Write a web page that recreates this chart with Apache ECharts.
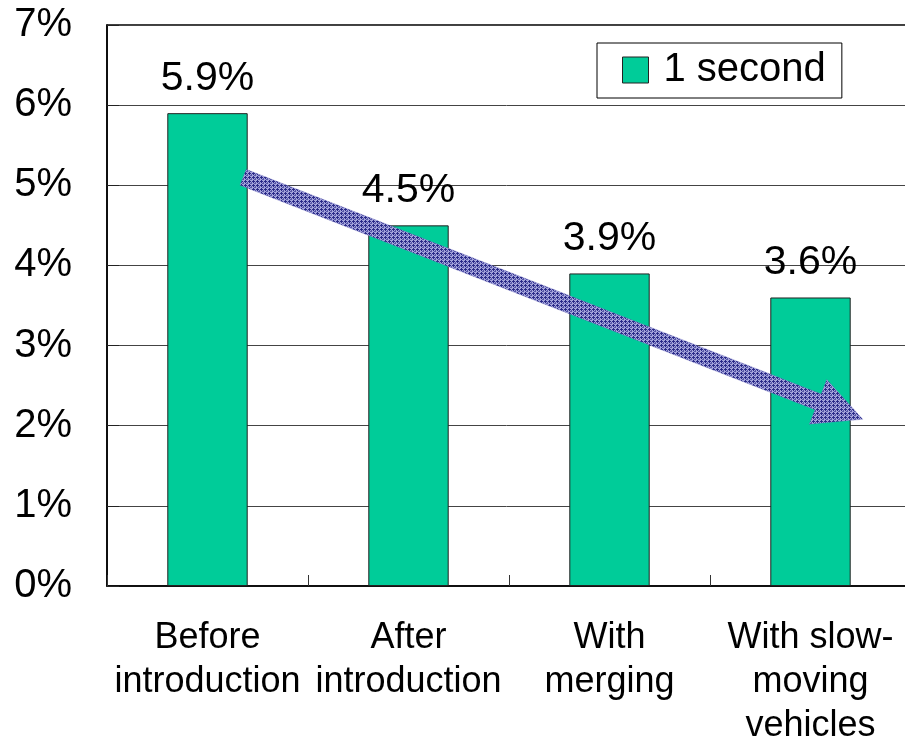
<!DOCTYPE html>
<html>
<head>
<meta charset="utf-8">
<script src="https://cdn.jsdelivr.net/npm/echarts@6/dist/echarts.min.js"></script>
<style>
html,body{margin:0;padding:0;background:#fff;}
#c{width:905px;height:741px;}
</style>
</head>
<body>
<div id="c"></div>
<script>
const categories = ['Before\nintroduction', 'After\nintroduction', 'With\nmerging', 'With slow-\nmoving\nvehicles'];
const seriesName = '1 second';
const values = [5.9, 4.5, 3.9, 3.6];
const yTicks = [0, 1, 2, 3, 4, 5, 6, 7];
// arrow annotation endpoints in data units: [category position, percent]
const arrowFrom = [0.177, 5.10];
const arrowTo = [3.26, 2.08];

const FONT = 'Liberation Sans, Arial, sans-serif';

// checkered pattern for the arrow
const pat = document.createElement('canvas');
pat.width = 4; pat.height = 4;
const pc = pat.getContext('2d');
pc.fillStyle = '#a2a2da'; pc.fillRect(0, 0, 4, 4);
pc.fillStyle = '#2a2a88';
[[1,0],[0,1],[1,1],[2,1],[1,2]].forEach(p => pc.fillRect(p[0], p[1], 1, 1));
pc.fillStyle = '#5656a8';
[[3,3],[3,2],[2,3]].forEach(p => pc.fillRect(p[0], p[1], 1, 1));

const chart = echarts.init(document.getElementById('c'), null, {renderer: 'canvas'});

chart.setOption({
  animation: false,
  backgroundColor: '#fff',
  grid: {
    left: 107, top: 25, width: 804, height: 561,
    containLabel: false,
    outerBoundsMode: 'none',
    show: true, borderColor: '#000', borderWidth: 1.5, backgroundColor: 'transparent'
  },
  legend: {
    left: 597, top: 43,
    padding: [7, 16, 8, 25],
    borderColor: '#000', borderWidth: 1,
    itemWidth: 26, itemHeight: 26,
    icon: 'rect',
    itemStyle: {borderColor: '#222', borderWidth: 1},
    textStyle: {fontFamily: FONT, fontSize: 40, color: '#000', padding: [0, 0, 0, 10]},
    data: [seriesName]
  },
  xAxis: {
    type: 'category',
    data: categories,
    axisLine: {lineStyle: {color: '#000', width: 1.5}},
    axisTick: {show: true, inside: true, length: 11, lineStyle: {color: '#333', width: 1}},
    axisLabel: {
      fontFamily: FONT, fontSize: 36, color: '#000', lineHeight: 44, margin: 30,
      interval: 0, align: 'center', hideOverlap: false
    },
    splitLine: {show: false}
  },
  yAxis: {
    type: 'value',
    min: yTicks[0], max: yTicks[yTicks.length - 1], interval: 1,
    axisLine: {show: true, lineStyle: {color: '#000', width: 1.5}},
    axisTick: {show: true, inside: true, length: 12, lineStyle: {color: '#222', width: 1}},
    axisLabel: {
      fontFamily: FONT, fontSize: 40, color: '#000', margin: 35,
      formatter: v => v + '%'
    },
    splitLine: {show: true, lineStyle: {color: '#444', width: 1}}
  },
  series: [{
    name: seriesName,
    type: 'bar',
    data: values,
    barWidth: '40%',
    itemStyle: {color: '#00cc99', borderColor: '#222', borderWidth: 1},
    label: {
      show: true, position: 'top', distance: 14,
      fontFamily: FONT, fontSize: 41, color: '#000',
      formatter: p => p.value + '%'
    },
    z: 2
  }]
});

function toPx(pt) {
  const p0 = chart.convertToPixel({gridIndex: 0}, [0, pt[1]]);
  const p1 = chart.convertToPixel({gridIndex: 0}, [1, pt[1]]);
  return [p0[0] + pt[0] * (p1[0] - p0[0]), p0[1]];
}
const S = toPx(arrowFrom);
const T = toPx(arrowTo);
const dx = T[0] - S[0], dy = T[1] - S[1];
const L = Math.sqrt(dx * dx + dy * dy);
const ux = dx / L, uy = dy / L;
const nx = -uy, ny = ux;
const hw = 8.5, headW = 24, headL = 48;
const B = [T[0] - ux * headL, T[1] - uy * headL];
const pts = [
  [S[0] + nx * hw, S[1] + ny * hw],
  [B[0] + nx * hw, B[1] + ny * hw],
  [B[0] + nx * headW, B[1] + ny * headW],
  [T[0], T[1]],
  [B[0] - nx * headW, B[1] - ny * headW],
  [B[0] - nx * hw, B[1] - ny * hw],
  [S[0] - nx * hw, S[1] - ny * hw]
];

chart.setOption({
  graphic: [{
    type: 'polygon',
    z: 100,
    shape: {points: pts},
    style: {fill: {image: pat, repeat: 'repeat'}, stroke: 'rgba(110,110,190,0.6)', lineWidth: 0.5}
  }]
});
</script>
</body>
</html>
